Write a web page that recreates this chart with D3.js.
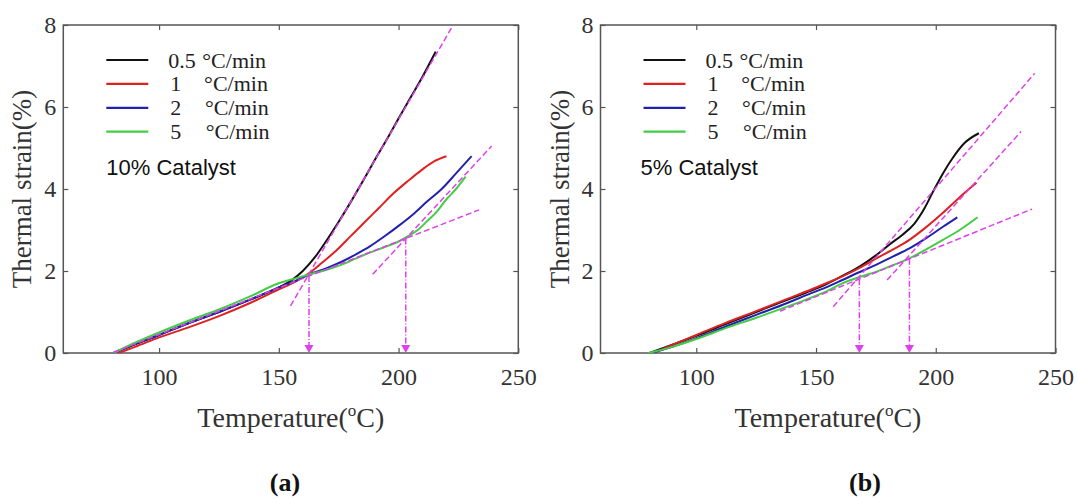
<!DOCTYPE html>
<html>
<head>
<meta charset="utf-8">
<script src="https://cdn.jsdelivr.net/npm/d3@7"></script>
<style>
  body { margin: 0; background: #fff; }
  svg { display: block; }
</style>
</head>
<body>
<script>
// heating rates, °C/min
const rateLabels = ["0.5", "1", "2", "5"]
const xTicks = [100, 150, 200, 250]
const yTicks = [0, 2, 4, 6, 8]

// (a) 10% catalyst: [temperature, thermal strain %]
const a05 = [[81,0],[90,0.21],[100,0.44],[112,0.72],[125,1.0],[138,1.3],[150,1.6],[155,1.76],[160,2.0],[165,2.33],[170,2.75],[175,3.2],[180,3.68],[185,4.18],[190,4.7],[195,5.2],[200,5.72],[205,6.23],[210,6.74],[215.5,7.35]]
const a1 = [[83,0],[90,0.15],[100,0.38],[112,0.62],[125,0.9],[138,1.22],[150,1.55],[157,1.74],[163,1.96],[168,2.2],[174,2.5],[180,2.85],[186,3.2],[192,3.55],[198,3.9],[204,4.2],[210,4.48],[215,4.68],[220,4.8]]
const a2 = [[81,0],[90,0.22],[100,0.44],[112,0.72],[125,1.0],[138,1.3],[150,1.6],[157,1.76],[163,1.92],[170,2.07],[176,2.22],[182,2.4],[188,2.6],[194,2.84],[200,3.1],[206,3.38],[212,3.7],[218,4.0],[224,4.38],[230.5,4.8]]
const a5 = [[81,0],[90,0.25],[100,0.5],[112,0.78],[125,1.06],[138,1.38],[150,1.7],[157,1.82],[163,1.92],[170,2.03],[176,2.15],[182,2.3],[188,2.45],[194,2.58],[200,2.72],[204,2.85],[208,3.0],[212,3.22],[216,3.45],[220,3.75],[224,4.0],[228,4.3]]
// tangent lines and onset points
const aTangents = [[[154.9,1.15],[222.8,8.0]], [[189.2,1.92],[238.9,5.05]], [[81,0.02],[233.6,3.49]]]
const aOnsets = [[162.6,1.88], [203.0,2.79]]

// (b) 5% catalyst
const b05 = [[80.5,0],[90,0.2],[100,0.42],[112,0.7],[125,1.0],[138,1.3],[148,1.52],[155,1.7],[161,1.88],[168,2.1],[175,2.38],[181,2.66],[186,2.88],[191,3.15],[195,3.5],[199,3.95],[203,4.38],[207,4.75],[212,5.12],[218,5.36]]
const b1 = [[82,0],[90,0.2],[100,0.44],[112,0.73],[125,1.02],[138,1.32],[148,1.55],[155,1.72],[161,1.87],[168,2.07],[175,2.3],[182,2.52],[189,2.76],[196,3.07],[203,3.42],[210,3.8],[217,4.15]]
const b2 = [[81,0],[90,0.15],[100,0.36],[112,0.64],[125,0.93],[138,1.22],[148,1.46],[155,1.62],[161,1.78],[168,1.97],[175,2.15],[182,2.35],[189,2.55],[196,2.8],[203,3.08],[209,3.31]]
const b5 = [[80,0],[90,0.15],[100,0.34],[112,0.6],[125,0.86],[138,1.13],[148,1.35],[155,1.52],[161,1.7],[168,1.85],[175,1.98],[182,2.14],[189,2.31],[196,2.53],[203,2.76],[210,3.0],[217.5,3.31]]
const bTangents = [[[157.2,1.13],[241.3,6.82]], [[179.7,1.78],[235.6,5.4]], [[135,1.02],[240.2,3.51]]]
const bOnsets = [[168.1,1.8], [189.0,2.3]]

const lineColors = ["#111111", "#dd2222", "#2222aa", "#44cc44"]
const guideColor = "#e040ec"
const serif = "'Liberation Serif', 'Times New Roman', serif"

const svg = d3.select("body").append("svg")
  .attr("width", 1077)
  .attr("height", 499)

function drawPanel(p) {
  const top = 25, bottom = 353, left = p.left, right = p.left + 455
  const x = d3.scaleLinear().domain([60, 250]).range([left, right])
  const y = d3.scaleLinear().domain([0, 8]).range([bottom, top])
  const g = svg.append("g")

  const clipId = "clip" + p.tag
  g.append("clipPath").attr("id", clipId)
    .append("rect").attr("x", left).attr("y", top).attr("width", right - left).attr("height", bottom - top)

  // axes, ticks pointing inwards on all four sides
  const styleAxis = (sel, showText) => {
    sel.select(".domain").remove()
    sel.selectAll(".tick line").attr("stroke", "#555").attr("stroke-width", 1.2)
    sel.selectAll("text")
      .attr("font-family", serif).attr("font-size", 24).attr("fill", "#333")
      .style("display", showText ? null : "none")
  }
  g.append("g").attr("transform", `translate(0,${bottom})`)
    .call(d3.axisBottom(x).tickValues(xTicks).tickSize(-5).tickPadding(15))
    .call(s => styleAxis(s, true))
  g.append("g").attr("transform", `translate(0,${top})`)
    .call(d3.axisTop(x).tickValues(xTicks).tickSize(-5))
    .call(s => styleAxis(s, false))
  g.append("g").attr("transform", `translate(${left},0)`)
    .call(d3.axisLeft(y).tickValues(yTicks).tickSize(-5).tickPadding(7))
    .call(s => styleAxis(s, true))
  g.append("g").attr("transform", `translate(${right},0)`)
    .call(d3.axisRight(y).tickValues(yTicks).tickSize(-5))
    .call(s => styleAxis(s, false))

  g.append("rect")
    .attr("x", left).attr("y", top)
    .attr("width", right - left).attr("height", bottom - top)
    .attr("fill", "none").attr("stroke", "#555").attr("stroke-width", 1.5)

  const line = d3.line().x(d => x(d[0])).y(d => y(d[1])).curve(d3.curveMonotoneX)
  const plot = g.append("g").attr("clip-path", `url(#${clipId})`)

  plot.selectAll("path.series")
    .data(p.series)
    .join("path")
    .attr("class", "series")
    .attr("d", line)
    .attr("fill", "none")
    .attr("stroke", (d, i) => lineColors[i])
    .attr("stroke-width", 2)

  // tangent guides
  plot.selectAll("line.tangent")
    .data(p.tangents)
    .join("line")
    .attr("class", "tangent")
    .attr("x1", d => x(d[0][0])).attr("y1", d => y(d[0][1]))
    .attr("x2", d => x(d[1][0])).attr("y2", d => y(d[1][1]))
    .attr("stroke", guideColor).attr("stroke-width", 1.5)
    .attr("stroke-dasharray", "6,3")

  // onset arrows down to the axis
  p.onsets.forEach(o => {
    const ax = x(o[0])
    g.append("line")
      .attr("x1", ax).attr("y1", y(o[1]))
      .attr("x2", ax).attr("y2", y(0) - 6)
      .attr("stroke", guideColor).attr("stroke-width", 1.5)
      .attr("stroke-dasharray", "6,2,1,2")
    g.append("path")
      .attr("d", `M${ax - 4.5},${y(0) - 8}L${ax + 4.5},${y(0) - 8}L${ax},${y(0)}Z`)
      .attr("fill", guideColor)
  })

  // legend
  const leg = g.append("g")
  rateLabels.forEach((r, i) => {
    const ly = 60 + i * 23.9
    leg.append("line")
      .attr("x1", left + 43).attr("x2", left + 85)
      .attr("y1", ly).attr("y2", ly)
      .attr("stroke", lineColors[i]).attr("stroke-width", 2.2)
    leg.append("text")
      .attr("x", left + 105 + (i ? 2 : 0)).attr("y", ly + 7.5)
      .attr("font-family", serif).attr("font-size", 22).attr("fill", "#222")
      .text(r)
    leg.append("text")
      .attr("x", left + 139 + (i ? 1 + i * 0.8 : 0)).attr("y", ly + 7.5)
      .attr("font-family", serif).attr("font-size", 22).attr("fill", "#222")
      .text("°C/min")
  })
  g.append("text")
    .attr("x", left + p.noteDx).attr("y", 175)
    .attr("font-family", "'Liberation Sans', Arial, sans-serif").attr("font-size", 22).attr("fill", "#111")
    .text(p.note)

  // axis titles
  g.append("text")
    .attr("transform", `translate(${left - 32},${(top + bottom) / 2}) rotate(-90)`)
    .attr("text-anchor", "middle")
    .attr("font-family", serif).attr("font-size", 27).attr("fill", "#333")
    .text("Thermal strain(%)")

  const xt = g.append("text")
    .attr("x", (left + right) / 2).attr("y", 427)
    .attr("text-anchor", "middle")
    .attr("font-family", serif).attr("font-size", 28).attr("fill", "#333")
  xt.append("tspan").text("Temperature(")
  xt.append("tspan").attr("font-size", 17).attr("dy", -11).text("o")
  xt.append("tspan").attr("dy", 11).text("C)")

  g.append("text")
    .attr("x", p.tagX).attr("y", 491)
    .attr("text-anchor", "middle")
    .attr("font-family", serif).attr("font-size", 26).attr("font-weight", "bold").attr("fill", "#111")
    .text(`(${p.tag})`)
}

drawPanel({ left: 63.3, series: [a05, a1, a2, a5], tangents: aTangents, onsets: aOnsets,
  note: "10% Catalyst", noteDx: 43, tag: "a", tagX: 285 })
drawPanel({ left: 600.5, series: [b05, b1, b2, b5], tangents: bTangents, onsets: bOnsets,
  note: "5% Catalyst", noteDx: 40, tag: "b", tagX: 865 })
</script>
</body>
</html>
